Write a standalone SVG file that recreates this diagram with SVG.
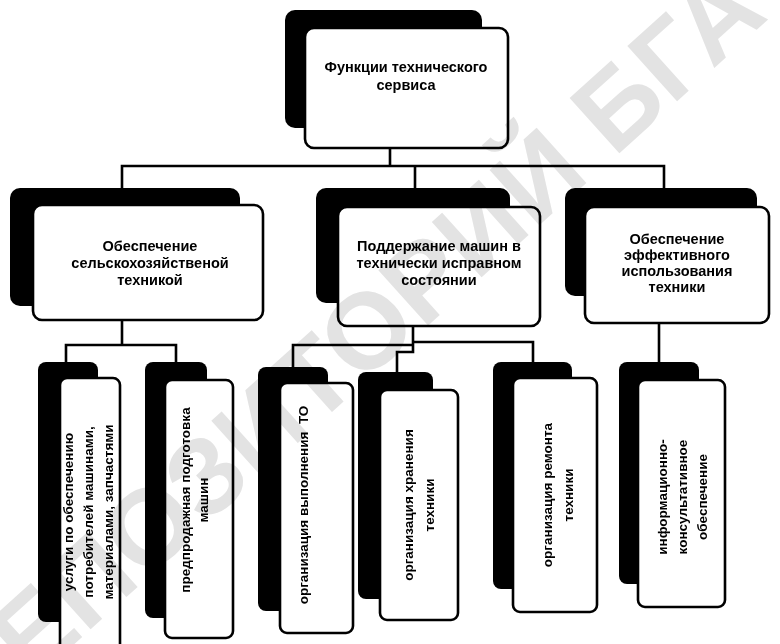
<svg xmlns="http://www.w3.org/2000/svg" width="780" height="644" viewBox="0 0 780 644">
  <style>
    .shadow { fill: #000; }
    .box { fill: #fff; stroke: #000; stroke-width: 2.6; }
    .lbl { font-family: "Liberation Sans", Arial, sans-serif; font-weight: bold; font-size: 14.5px; fill: #000; text-anchor: middle; }
    .vl { font-family: "Liberation Sans", Arial, sans-serif; font-weight: bold; font-size: 13.5px; fill: #000; text-anchor: middle; }
    .wire { fill: none; stroke: #000; stroke-width: 2.6; stroke-linejoin: miter; }
    .mark { font-family: "Liberation Sans", Arial, sans-serif; font-weight: bold; font-size: 108px; fill: #e3e3e3; mix-blend-mode: multiply; }
  </style>
  <rect width="780" height="644" fill="#fff"/>

  <!-- connectors -->
  <g id="connectors">
    <path class="wire" d="M390 148 V166 M122 188 V166 H664 V188 M415 166 V188"/>
    <path class="wire" d="M122 320 V345 M66 362 V345 H176 V362"/>
    <path class="wire" d="M413 326 V352 H397 V372 M293 367 V345 H413 M413 342 H533 V362"/>
    <path class="wire" d="M659 323 V362"/>
  </g>

  <!-- root -->
  <g id="n-root">
    <rect class="shadow" x="285" y="10" width="197" height="118" rx="10"/>
    <rect class="box" x="305" y="28" width="203" height="120" rx="9"/>
    <text class="lbl"><tspan x="406" y="72">Функции технического</tspan><tspan x="406" y="90">сервиса</tspan></text>
  </g>

  <!-- second level -->
  <g id="n-supply">
    <rect class="shadow" x="10" y="188" width="230" height="118" rx="10"/>
    <rect class="box" x="33" y="205" width="230" height="115" rx="9"/>
    <text class="lbl"><tspan x="150" y="251">Обеспечение</tspan><tspan x="150" y="268">сельскохозяйственой</tspan><tspan x="150" y="285">техникой</tspan></text>
  </g>
  <g id="n-maintain">
    <rect class="shadow" x="316" y="188" width="194" height="115" rx="10"/>
    <rect class="box" x="338" y="207" width="202" height="119" rx="9"/>
    <text class="lbl"><tspan x="439" y="251">Поддержание машин в</tspan><tspan x="439" y="268">технически исправном</tspan><tspan x="439" y="285">состоянии</tspan></text>
  </g>
  <g id="n-use">
    <rect class="shadow" x="565" y="188" width="192" height="108" rx="10"/>
    <rect class="box" x="585" y="207" width="184" height="116" rx="9"/>
    <text class="lbl"><tspan x="677" y="244">Обеспечение</tspan><tspan x="677" y="260">эффективного</tspan><tspan x="677" y="276">использования</tspan><tspan x="677" y="292">техники</tspan></text>
  </g>

  <!-- third level, vertical labels -->
  <g id="n-services">
    <rect class="shadow" x="38" y="362" width="60" height="260" rx="8"/>
    <rect class="box" x="60" y="378" width="60" height="275" rx="7"/>
    <text class="vl" transform="translate(88 512) rotate(-90)"><tspan x="0" y="-15">услуги по обеспечению</tspan><tspan x="0" y="5">потребителей машинами,</tspan><tspan x="0" y="25">материалами, запчастями</tspan></text>
  </g>
  <g id="n-presale">
    <rect class="shadow" x="145" y="362" width="62" height="256" rx="8"/>
    <rect class="box" x="165" y="380" width="68" height="258" rx="7"/>
    <text class="vl" transform="translate(194 500) rotate(-90)"><tspan x="0" y="-4">предпродажная подготовка</tspan><tspan x="0" y="14">машин</tspan></text>
  </g>
  <g id="n-service-to">
    <rect class="shadow" x="258" y="367" width="70" height="244" rx="8"/>
    <rect class="box" x="280" y="383" width="73" height="250" rx="7"/>
    <text class="vl" transform="translate(303 505) rotate(-90)" xml:space="preserve"><tspan x="0" y="5">организация выполнения  ТО</tspan></text>
  </g>
  <g id="n-storage">
    <rect class="shadow" x="358" y="372" width="75" height="227" rx="8"/>
    <rect class="box" x="380" y="390" width="78" height="230" rx="7"/>
    <text class="vl" transform="translate(419 505) rotate(-90)"><tspan x="0" y="-6">организация хранения</tspan><tspan x="0" y="15">техники</tspan></text>
  </g>
  <g id="n-repair">
    <rect class="shadow" x="493" y="362" width="79" height="227" rx="8"/>
    <rect class="box" x="513" y="378" width="84" height="234" rx="7"/>
    <text class="vl" transform="translate(557 495) rotate(-90)"><tspan x="0" y="-5">организация ремонта</tspan><tspan x="0" y="16">техники</tspan></text>
  </g>
  <g id="n-info">
    <rect class="shadow" x="619" y="362" width="80" height="222" rx="8"/>
    <rect class="box" x="638" y="380" width="87" height="227" rx="7"/>
    <text class="vl" transform="translate(682 497) rotate(-90)"><tspan x="0" y="-15">информационно-</tspan><tspan x="0" y="5">консультативное</tspan><tspan x="0" y="25">обеспечение</tspan></text>
  </g>

  <!-- repository stamp over the sheet -->
  <g transform="translate(614 158) rotate(-42)">
    <text class="mark" x="-30" y="0" text-anchor="end">РЕПОЗИТОРИЙ</text>
    <text class="mark" x="0" y="0">БГАТУ</text>
  </g>
</svg>
